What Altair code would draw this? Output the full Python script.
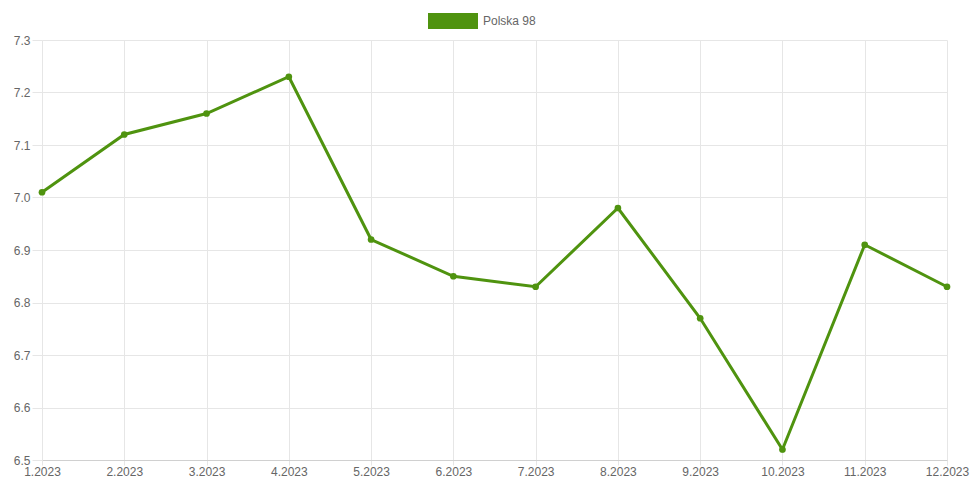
import altair as alt
import pandas as pd

months = ["1.2023", "2.2023", "3.2023", "4.2023", "5.2023", "6.2023",
          "7.2023", "8.2023", "9.2023", "10.2023", "11.2023", "12.2023"]
values = [7.01, 7.12, 7.16, 7.23, 6.92, 6.85, 6.83, 6.98, 6.77, 6.52, 6.91, 6.83]
series_name = "Polska 98"
y_ticks = [6.5, 6.6, 6.7, 6.8, 6.9, 7.0, 7.1, 7.2, 7.3]

df = pd.DataFrame({"month": months, "value": values, "series": series_name})

color = "#4f930f"
grid = "#e6e6e6"
font = "Liberation Sans"

base = alt.Chart(df).encode(
    x=alt.X("month:N", sort=months, title=None,
            scale=alt.Scale(type="point", padding=0),
            axis=alt.Axis(labelAngle=0, labelColor="#666666", labelFontSize=12,
                          labelFont=font, grid=True, gridColor=grid,
                          domainColor="#d0d0d0", tickColor=grid, tickSize=5,
                          labelPadding=1)),
    y=alt.Y("value:Q", title=None,
            scale=alt.Scale(domain=[6.5, 7.3], nice=False, zero=False),
            axis=alt.Axis(values=y_ticks, format=".1f", labelColor="#666666",
                          labelFontSize=12, labelFont=font, gridColor=grid,
                          domainColor=grid, tickColor=grid, tickSize=10,
                          labelPadding=2)),
    color=alt.Color("series:N", scale=alt.Scale(range=[color]), legend=None),
)

line = base.mark_line(strokeWidth=3)
points = base.mark_point(filled=True, size=45, opacity=1)

# legend drawn as box + label
legend_df = pd.DataFrame({"series": [series_name]})
legend_box = alt.Chart(legend_df).mark_rect(color=color).encode(
    x=alt.value(386), x2=alt.value(436), y=alt.value(-27), y2=alt.value(-11))
legend_text = alt.Chart(legend_df).mark_text(
    align="left", baseline="middle", font=font, fontSize=12, color="#666666").encode(
    x=alt.value(441), y=alt.value(-19), text="series:N")

chart = alt.layer(line, points, legend_box, legend_text).properties(
    width=905, height=420,
    autosize=alt.AutoSizeParams(type="none"),
    padding={"left": 34, "top": 32, "right": 25, "bottom": 20},
).configure_view(stroke=None)

chart.save("out.html", embed_options={"renderer": "svg", "actions": False})
